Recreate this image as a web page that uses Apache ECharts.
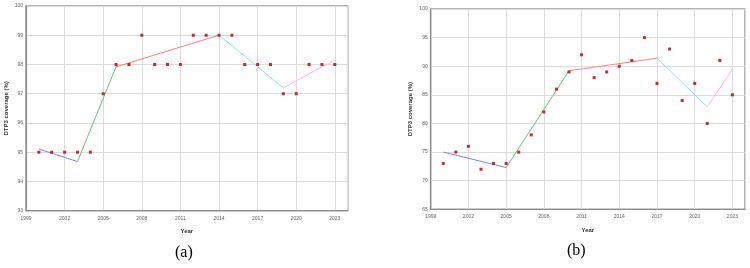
<!DOCTYPE html>
<html>
<head>
<meta charset="utf-8">
<script src="https://cdn.jsdelivr.net/npm/echarts@6/dist/echarts.min.js"></script>
<style>
  html, body { margin: 0; padding: 0; background: #fff; }
  #chart { width: 750px; height: 268px; }
</style>
</head>
<body>
<div id="chart"></div>
<script>
// 年份（x轴从1999开始，每3年一个刻度）
const baseYear = 1999;
const years = [2000, 2001, 2002, 2003, 2004, 2005, 2006, 2007, 2008, 2009, 2010, 2011,
  2012, 2013, 2014, 2015, 2016, 2017, 2018, 2019, 2020, 2021, 2022, 2023];

// (a) 观测值
const coverageA = [95, 95, 95, 95, 95, 97, 98, 98, 99, 98, 98, 98,
  99, 99, 99, 99, 98, 98, 98, 97, 97, 98, 98, 98];
// (a) joinpoint 拐点 [年份, 拟合值]
const jointA = [[2000, 95.11], [2003, 94.68], [2006, 97.92], [2014, 99.0], [2019, 97.2], [2023, 98.16]];

// (b) 观测值
const coverageB = [73, 75, 76, 72, 73, 73, 75, 78, 82, 86, 89, 92,
  88, 89, 90, 91, 95, 87, 93, 84, 87, 80, 91, 85];
// (b) joinpoint 拐点
const jointB = [[2000, 75.0], [2005, 72.3], [2010, 89.2], [2017, 91.4], [2021, 82.9], [2023, 89.5]];

// 各段颜色
const segColors = ['#8080ff', '#74bf74', '#ff8080', '#80eaea', '#ffb4f0'];

const chart = echarts.init(document.getElementById('chart'));

const gridBox = [
  { left: 26, top: 6, width: 321.7, height: 204.7 },
  { left: 430.7, top: 9, width: 314.3, height: 200.3 }
];

function makeXAxis(i) {
  return {
    type: 'value', gridIndex: i, min: 0, max: 25, interval: 3,
    name: 'Year', nameLocation: 'middle', nameGap: 18,
    nameTextStyle: { fontSize: 6, fontWeight: 'bold', color: '#333' },
    axisLine: { lineStyle: { color: '#8c8c8c', width: 1.2 } },
    axisTick: { show: false },
    axisLabel: {
      fontSize: 5, color: '#666', margin: 5, showMaxLabel: false,
      formatter: v => String(v + baseYear)
    },
    splitLine: { lineStyle: { color: '#dcdcdc', width: 1 } }
  };
}

function makeYAxis(i, min, max, interval) {
  return {
    type: 'value', gridIndex: i, min: min, max: max, interval: interval,
    name: 'DTP3 coverage (%)', nameLocation: 'middle', nameGap: 17, nameRotate: 90,
    nameTextStyle: { fontSize: 6, fontWeight: 'bold', color: '#333' },
    axisLine: { show: true, lineStyle: { color: '#8c8c8c', width: 1.2 } },
    axisTick: { show: false },
    axisLabel: { fontSize: 5, color: '#666', margin: 3 },
    splitLine: { lineStyle: { color: '#dcdcdc', width: 1 } }
  };
}

// 散点数据转换
function toPoints(vals) {
  return years.map((y, k) => [y - baseYear, vals[k]]);
}

// 拐点连线拆成若干段
function segSeries(joints, idx) {
  const res = [];
  for (let k = 0; k < joints.length - 1; k++) {
    res.push({
      type: 'line', xAxisIndex: idx, yAxisIndex: idx,
      symbol: 'none', silent: true,
      lineStyle: { color: segColors[k], width: 1 },
      data: [
        [joints[k][0] - baseYear, joints[k][1]],
        [joints[k + 1][0] - baseYear, joints[k + 1][1]]
      ]
    });
  }
  return res;
}

function scatterSeries(vals, idx) {
  return {
    type: 'scatter', xAxisIndex: idx, yAxisIndex: idx,
    symbol: 'rect', symbolSize: 3, z: 5,
    itemStyle: { color: '#b00000' },
    data: toPoints(vals)
  };
}

const option = {
  animation: false,
  grid: gridBox.map(g => Object.assign({ show: true, borderColor: '#9a9a9a', borderWidth: 1.5, backgroundColor: '#fff' }, g)),
  xAxis: [makeXAxis(0), makeXAxis(1)],
  yAxis: [makeYAxis(0, 93, 100, 1), makeYAxis(1, 65, 100, 5)],
  graphic: [
    { type: 'text', left: 175, top: 245, style: { text: '(a)', font: '16px "Liberation Serif"', fill: '#000' } },
    { type: 'text', left: 567, top: 243, style: { text: '(b)', font: '16px "Liberation Serif"', fill: '#000' } }
  ],
  series: [
    ...segSeries(jointA, 0),
    scatterSeries(coverageA, 0),
    ...segSeries(jointB, 1),
    scatterSeries(coverageB, 1)
  ]
};

chart.setOption(option);
</script>
</body>
</html>
